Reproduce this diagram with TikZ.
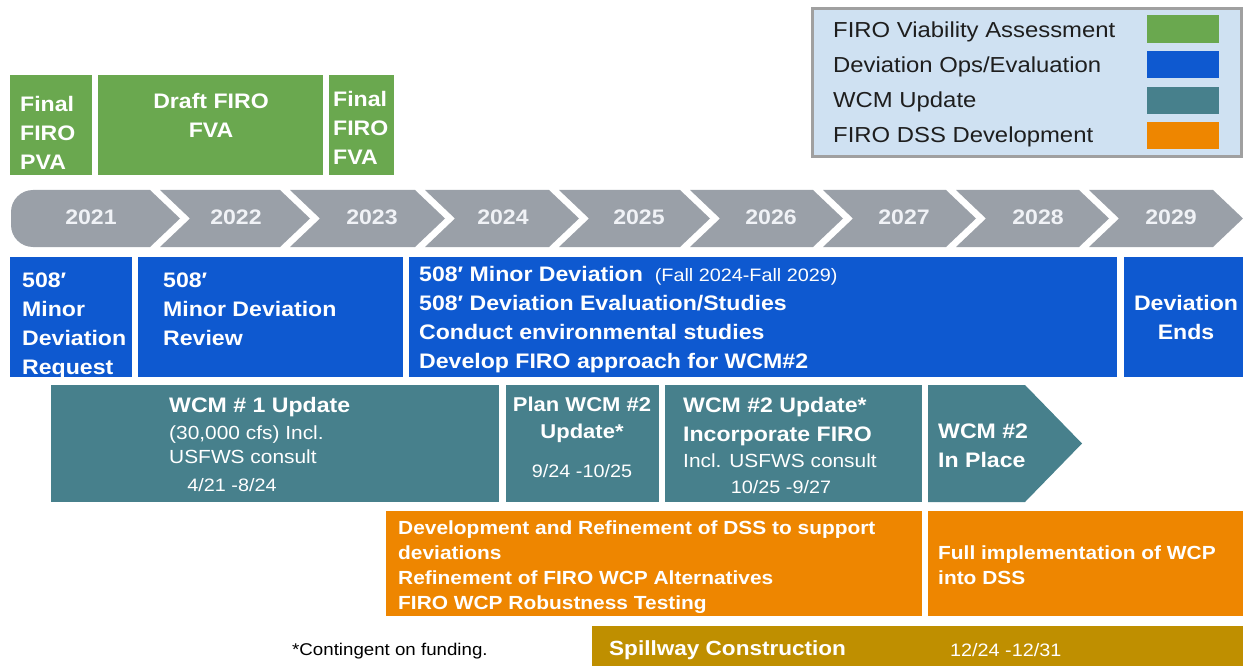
\documentclass[tikz,border=0pt]{standalone}
\usepackage{fontspec}
\setmainfont[FakeStretch=1.1]{Liberation Sans}
\definecolor{cgreen}{RGB}{106,168,79}
\definecolor{cblue}{RGB}{14,89,208}
\definecolor{cteal}{RGB}{71,128,140}
\definecolor{corange}{RGB}{238,134,0}
\definecolor{cgold}{RGB}{191,143,0}
\definecolor{cgray}{RGB}{154,160,168}
\definecolor{clegend}{RGB}{207,225,242}
\definecolor{cborder}{RGB}{160,160,160}
\definecolor{cyear}{RGB}{240,242,246}
\definecolor{ctext}{RGB}{30,30,30}
\newcommand\fsb[1]{\fontsize{#1}{#1}\selectfont\bfseries}
\newcommand\fsr[1]{\fontsize{#1}{#1}\selectfont}
\tikzset{
  lw/.style={inner sep=0pt, anchor=base west, text=white},
  lc/.style={inner sep=0pt, anchor=base, text=white},
  big/.style={font=\fsb{21}},
  mid/.style={font=\fsb{19}},
  reg/.style={font=\fsr{19}},
  small/.style={font=\fsr{18}},
  yr/.style={inner sep=0pt, anchor=base, text=cyear, font=\fsb{21}},
  leg/.style={inner sep=0pt, anchor=base west, text=ctext, font=\fsr{21.7}},
}
\begin{document}
\begin{tikzpicture}[x=1pt,y=-1pt]
\useasboundingbox (0,0) rectangle (1243,666);

% legend
\filldraw[fill=clegend, draw=cborder, line width=3pt] (812,9) rectangle (1241,157);
\fill[cgreen] (1147,15) rectangle (1219,43);
\fill[cblue] (1147,51) rectangle (1219,78);
\fill[cteal] (1147,87) rectangle (1219,114);
\fill[corange] (1147,122) rectangle (1219,149);
\node[leg] (leg1) at (833,38) {FIRO Viability Assessment};
\node[leg] (leg2) at (833,73) {Deviation Ops/Evaluation};
\node[leg] (leg3) at (833,108) {WCM Update};
\node[leg] (leg4) at (833,143) {FIRO DSS Development};

% green boxes
\fill[cgreen] (10,75) rectangle (92,175);
\fill[cgreen] (98,75) rectangle (323,175);
\fill[cgreen] (329,75) rectangle (394,175);
\node[lw,big] (g1a) at (20,112) {Final};
\node[lw,big] (g1b) at (20,141) {FIRO};
\node[lw,big] (g1c) at (20,170) {PVA};
\node[lc,big] (g2a) at (211,109) {Draft FIRO};
\node[lc,big] (g2b) at (211,138) {FVA};
\node[lw,big] (g3a) at (333,107) {Final};
\node[lw,big] (g3b) at (333,136) {FIRO};
\node[lw,big] (g3c) at (333,165) {FVA};

% timeline chevrons
\fill[cgray] (150,190) -- (33,190) arc[start angle=270, end angle=180, radius=22]
  -- (11,225) arc[start angle=180, end angle=90, radius=22] -- (150,247) -- (180,218.5) -- cycle;
\foreach \L/\R in {160/280, 290/415, 425/549, 559/680, 690/813, 823/946, 956/1079, 1089/1213}{
  \fill[cgray] (\L,190) -- (\R,190) -- (\R+30,218.5) -- (\R,247) -- (\L,247) -- (\L+30,218.5) -- cycle;
}
\node[yr] (y21) at (91,225) {2021};
\node[yr] (y22) at (236,225) {2022};
\node[yr] (y23) at (372,225) {2023};
\node[yr] (y24) at (503,225) {2024};
\node[yr] (y25) at (639,225) {2025};
\node[yr] (y26) at (771,225) {2026};
\node[yr] (y27) at (904,225) {2027};
\node[yr] (y28) at (1038,225) {2028};
\node[yr] (y29) at (1171,225) {2029};

% blue row
\fill[cblue] (10,257) rectangle (132,377);
\fill[cblue] (138,257) rectangle (403,377);
\fill[cblue] (409,257) rectangle (1117,377);
\fill[cblue] (1124,257) rectangle (1243,377);
\node[lw,big] (b1a) at (22,287) {508′};
\node[lw,big] (b1b) at (22,316) {Minor};
\node[lw,big] (b1c) at (22,345) {Deviation};
\node[lw,big] (b1d) at (22,374) {Request};
\node[lw,big] (b2a) at (163,287) {508′};
\node[lw,big] (b2b) at (163,316) {Minor Deviation};
\node[lw,big] (b2c) at (163,345) {Review};
\node[lw,big] (b3a) at (419,281) {508′ Minor Deviation \fsr{18}\mdseries\ (Fall 2024-Fall 2029)};
\node[lw,big] (b3b) at (419,310) {508′ Deviation Evaluation/Studies};
\node[lw,big] (b3c) at (419,339) {Conduct environmental studies};
\node[lw,big] (b3d) at (419,368) {Develop FIRO approach for WCM\#2};
\node[lc,big] (b4a) at (1186,310) {Deviation};
\node[lc,big] (b4b) at (1186,339) {Ends};

% teal row
\fill[cteal] (51,385) rectangle (499,502);
\fill[cteal] (506,385) rectangle (659,502);
\fill[cteal] (665,385) rectangle (922,502);
\fill[cteal] (928,385) -- (1025,385) -- (1082,443.5) -- (1025,502) -- (928,502) -- cycle;
\node[lw,big] (t1a) at (169,412) {WCM \# 1 Update};
\node[lw,reg] (t1b) at (169,439) {(30,000 cfs) Incl.};
\node[lw,reg] (t1c) at (169,463) {USFWS consult};
\node[lc,small] (t1d) at (232,491) {4/21 -8/24};
\node[lc,big,font=\fsb{20}] (t2a) at (582,411) {Plan WCM \#2};
\node[lc,big,font=\fsb{20}] (t2b) at (582,438) {Update*};
\node[lc,small] (t2c) at (582,477) {9/24 -10/25};
\node[lw,big] (t3a) at (683,412) {WCM \#2 Update*};
\node[lw,big] (t3b) at (683,441) {Incorporate FIRO};
\node[lw,reg] (t3c) at (683,467) {Incl. USFWS consult};
\node[lc,small] (t3d) at (781,493) {10/25 -9/27};
\node[lw,big] (t4a) at (938,438) {WCM \#2};
\node[lw,big] (t4b) at (938,467) {In Place};

% orange row
\fill[corange] (386,511) rectangle (922,616);
\fill[corange] (928,511) rectangle (1243,616);
\node[lw,mid] (o1a) at (398,534) {Development and Refinement of DSS to support};
\node[lw,mid] (o1b) at (398,559) {deviations};
\node[lw,mid] (o1c) at (398,584) {Refinement of FIRO WCP Alternatives};
\node[lw,mid] (o1d) at (398,609) {FIRO WCP Robustness Testing};
\node[lw,mid] (o2a) at (938,559) {Full implementation of WCP};
\node[lw,mid] (o2b) at (938,584) {into DSS};

% spillway
\fill[cgold] (592,626) rectangle (1243,666);
\node[lw,big,font=\fsb{20.5}] (s1) at (609,655) {Spillway Construction};
\node[lw,small] (s2) at (950,656) {12/24 -12/31};

% footnote
\node[inner sep=0pt, anchor=base west, text=black, font=\fsr{17}] (fn) at (292,655) {*Contingent on funding.};
\end{tikzpicture}
\end{document}
